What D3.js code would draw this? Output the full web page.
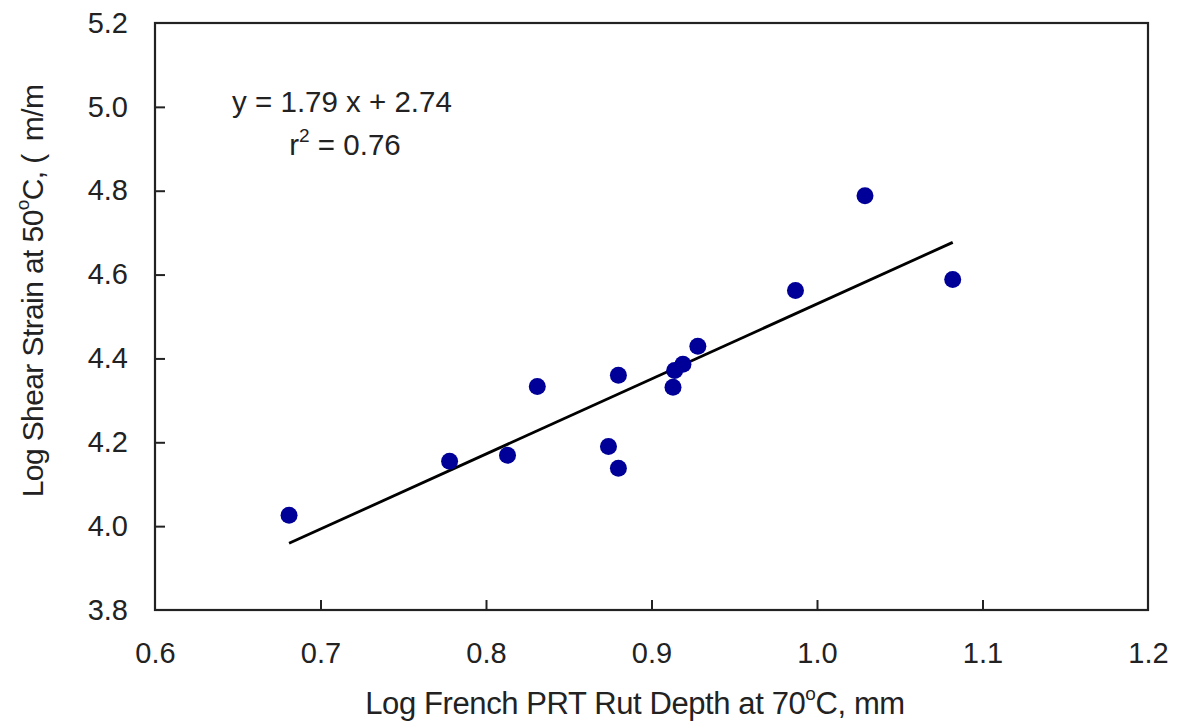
<!DOCTYPE html>
<html>
<head>
<meta charset="utf-8">
<script src="https://cdn.jsdelivr.net/npm/d3@7"></script>
<style>
  body { margin: 0; background: #fff; }
  svg { font-family: "Liberation Sans", Arial, sans-serif; }
</style>
</head>
<body>
<svg width="1177" height="728"></svg>
<script>
// data
var rutDepth = [0.681, 0.778, 0.813, 0.831, 0.880, 0.874, 0.880, 0.913, 0.914, 0.919, 0.928, 0.987, 1.029, 1.082];
var shearStrain = [4.026, 4.155, 4.169, 4.333, 4.360, 4.190, 4.138, 4.331, 4.371, 4.386, 4.429, 4.562, 4.788, 4.588];
var xTicks = [0.6, 0.7, 0.8, 0.9, 1.0, 1.1, 1.2];
var yTicks = [3.8, 4.0, 4.2, 4.4, 4.6, 4.8, 5.0, 5.2];
var slope = 1.79, intercept = 2.74;

var svg = d3.select("svg");
var margin = {top: 23, right: 29, bottom: 118, left: 155};
var width = 1177 - margin.left - margin.right;
var height = 728 - margin.top - margin.bottom;

var x = d3.scaleLinear().domain([0.6, 1.2]).range([0, width]);
var y = d3.scaleLinear().domain([3.8, 5.2]).range([height, 0]);

var g = svg.append("g").attr("transform", "translate(" + margin.left + "," + margin.top + ")");

// axes with inward ticks
var xAxis = g.append("g")
  .attr("transform", "translate(0," + height + ")")
  .call(d3.axisBottom(x).tickValues(xTicks).tickSize(-10).tickPadding(32).tickFormat(d3.format(".1f")));
var yAxis = g.append("g")
  .call(d3.axisLeft(y).tickValues(yTicks).tickSize(-10).tickPadding(27).tickFormat(d3.format(".1f")));

[xAxis, yAxis].forEach(function(a) {
  a.select(".domain").remove();
  a.selectAll("line").attr("stroke", "#222").attr("stroke-width", 2);
  a.selectAll("text").attr("font-size", 29).attr("fill", "#222")
    .attr("font-family", "'Liberation Sans', Arial, sans-serif");
});
xAxis.selectAll("line").filter(function(d) { return d === 0.6 || d === 1.2; }).remove();
yAxis.selectAll("line").filter(function(d) { return d === 3.8 || d === 5.2; }).remove();

// frame
g.append("rect")
  .attr("width", width).attr("height", height)
  .attr("fill", "none").attr("stroke", "#222").attr("stroke-width", 2.2);

// trend line
var xMin = d3.min(rutDepth), xMax = d3.max(rutDepth);
g.append("line")
  .attr("x1", x(xMin)).attr("y1", y(slope * xMin + intercept))
  .attr("x2", x(xMax)).attr("y2", y(slope * xMax + intercept))
  .attr("stroke", "#000").attr("stroke-width", 2.8);

// points
g.selectAll("circle")
  .data(rutDepth)
  .enter().append("circle")
  .attr("cx", function(d) { return x(d); })
  .attr("cy", function(d, i) { return y(shearStrain[i]); })
  .attr("r", 8.5)
  .attr("fill", "#000099");

// equation
var eq = svg.append("g").attr("font-size", 29.5).attr("fill", "#222").attr("text-anchor", "middle");
eq.append("text").attr("x", 342).attr("y", 112).text("y = 1.79 x + 2.74");
var r2 = eq.append("text").attr("x", 345).attr("y", 155);
r2.append("tspan").text("r");
r2.append("tspan").attr("font-size", 19).attr("dy", -13).text("2");
r2.append("tspan").attr("dy", 13).text(" = 0.76");

// axis titles
var xt = svg.append("text")
  .attr("x", 635).attr("y", 714)
  .attr("text-anchor", "middle").attr("font-size", 31).attr("letter-spacing", -0.4).attr("fill", "#222");
xt.append("tspan").text("Log French PRT Rut Depth at 70");
xt.append("tspan").attr("font-size", 19).attr("dy", -14).text("o");
xt.append("tspan").attr("dy", 14).text("C, mm");

var yt = svg.append("text")
  .attr("transform", "translate(43,291) rotate(-90)")
  .attr("text-anchor", "middle").attr("font-size", 30).attr("letter-spacing", -0.6).attr("fill", "#222");
yt.append("tspan").text("Log Shear Strain at 50");
yt.append("tspan").attr("font-size", 19).attr("dy", -14).text("o");
yt.append("tspan").attr("dy", 14).text("C, (\u2009 m/m");
</script>
</body>
</html>
